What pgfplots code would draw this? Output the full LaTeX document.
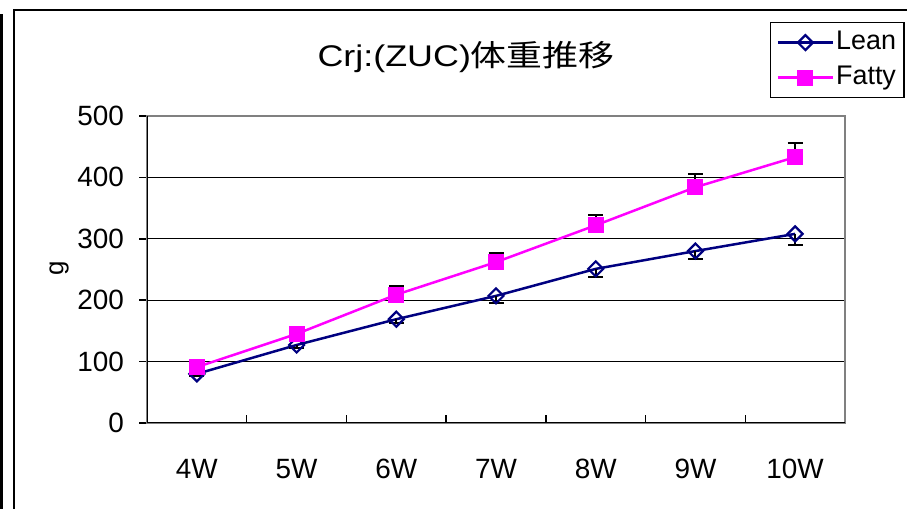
\documentclass[border=0pt]{standalone}
\usepackage{pgfplots}
\pgfplotsset{compat=1.18}
\usepackage{pgfplotstable}
\usepackage{fontspec}
\setmainfont{Liberation Sans}
\newfontfamily\cjk{Noto Sans CJK JP}
\definecolor{lean}{RGB}{0,0,128}
\definecolor{fatty}{RGB}{255,0,255}
\definecolor{bordergray}{RGB}{128,128,128}

\pgfplotstableread{
x y e
0 80 4
1 127 5
2 169 6
3 207 12
4 251 13
5 280 13
6 308 18
}\leandata
\pgfplotstableread{
x y e
0 91 6
1 145 11
2 209 14
3 262 15
4 322 16
5 384 21
6 433 23
}\fattydata

\begin{document}
\begin{tikzpicture}[x=1bp,y=1bp]
\useasboundingbox (0,0) rectangle (907,509);
\draw[line width=2bp] (14,-10) -- (14,499) -- (930,499);
\draw[line width=3bp] (1.5,-10) -- (1.5,495);
\node[anchor=base, font=\fontsize{30}{36}\selectfont, inner sep=0, xscale=1.2] at (466,442) {Crj:(ZUC){\cjk 体重推移}};
\begin{axis}[
  at={(147bp,86bp)}, anchor=south west,
  width=698bp, height=307bp, scale only axis,
  xmin=-0.5, xmax=6.5, ymin=0, ymax=500,
  ytick={0,100,200,300,400,500},
  xtick={0,1,2,3,4,5,6},
  xticklabels={4W,5W,6W,7W,8W,9W,10W},
  minor xtick={0.5,1.5,2.5,3.5,4.5,5.5},
  major x tick style={draw=none},
  minor x tick style={black, line width=1.5bp, yshift=8bp},
  y tick style={black, line width=1.5bp},
  tick align=outside,
  major tick length=8bp, minor tick length=8bp,
  xtick pos=bottom, ytick pos=left,
  ymajorgrids, major grid style={black, line width=1bp},
  axis line style={draw=bordergray, line width=2.5bp},
  /pgf/number format/assume math mode=true,
  tick label style={font=\fontsize{28}{32}\selectfont},
  yticklabel style={anchor=east, inner sep=0pt, xshift=-15bp},
  xticklabel style={anchor=north, inner sep=0pt, yshift=-28bp},
  ylabel={g},
  every axis y label/.append style={at={(axis description cs:-0.126,0.505)}, anchor=center, font=\fontsize{26}{30}\selectfont},
  legend style={at={(rel axis cs:0.8926,1.3062)}, anchor=north west, draw=black, line width=1.2bp,
    font=\fontsize{27}{30}\selectfont, inner xsep=6bp, inner ysep=5bp, row sep=5bp,
    nodes={inner sep=2bp, text height=20bp, text depth=6bp}},
  legend cell align=left,
  legend image code/.code={\draw[mark repeat=2,mark phase=2,#1] plot coordinates {(0bp,0bp) (27.5bp,0bp) (55bp,0bp)};},
]
\addplot[lean, line width=2.5bp, mark=square, mark size=5.3bp,
  mark options={rotate=45, fill=white, line width=2.2bp, solid},
  error bars/.cd, y dir=minus, y explicit,
  error bar style={black, line width=2bp},
  error mark options={black, rotate=90, mark size=7.5bp, line width=2bp}]
  table[x=x, y=y, y error=e] {\leandata};
\addlegendentry{Lean}
\addplot[fatty, line width=2.5bp, mark=square*, mark size=7.5bp,
  mark options={fill=fatty, line width=1bp, solid},
  error bars/.cd, y dir=plus, y explicit,
  error bar style={black, line width=2bp},
  error mark options={black, rotate=90, mark size=7.5bp, line width=2bp}]
  table[x=x, y=y, y error=e] {\fattydata};
\addlegendentry{Fatty}
\draw[black, line width=2bp] (rel axis cs:0,1) -- (rel axis cs:0,0) -- (rel axis cs:1,0);
\end{axis}
\end{tikzpicture}
\end{document}
